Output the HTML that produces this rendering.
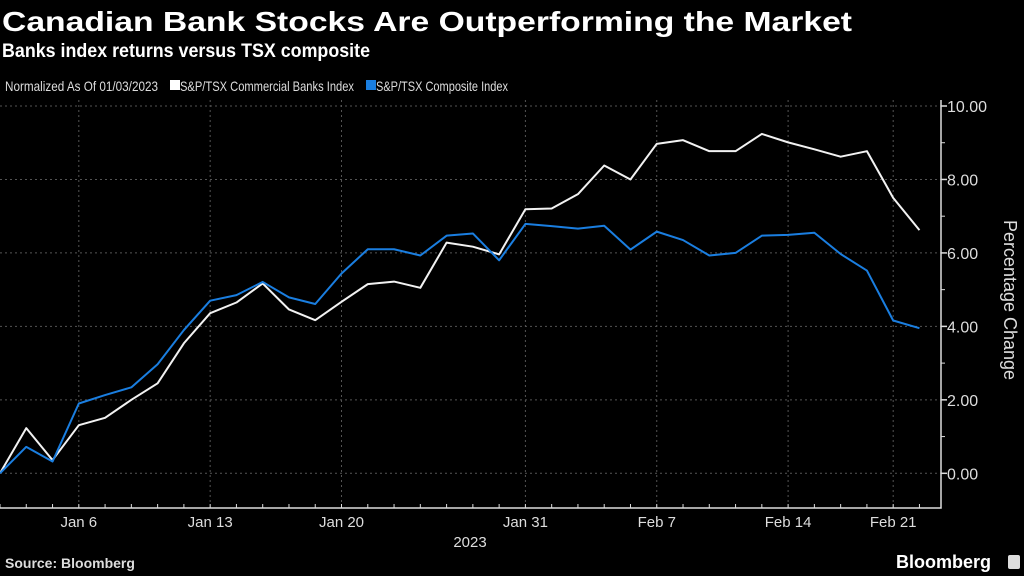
<!DOCTYPE html>
<html><head><meta charset="utf-8"><style>
html,body{margin:0;padding:0;background:#000;}
svg{display:block;font-family:"Liberation Sans",sans-serif;}
</style></head><body>
<svg id="chart" width="1024" height="576" viewBox="0 0 1024 576" xmlns="http://www.w3.org/2000/svg">
<rect x="0" y="0" width="1024" height="576" fill="#000"/>
<text x="2" y="31" fill="#fff" font-size="28" font-weight="bold" textLength="850" lengthAdjust="spacingAndGlyphs">Canadian Bank Stocks Are Outperforming the Market</text>
<text x="2" y="57" fill="#fff" font-size="19" font-weight="bold" textLength="368" lengthAdjust="spacingAndGlyphs">Banks index returns versus TSX composite</text>
<g>
<text x="5" y="91" fill="#ddd" font-size="14" textLength="153" lengthAdjust="spacingAndGlyphs">Normalized As Of 01/03/2023</text>
<rect x="170" y="80" width="10" height="10" fill="#fff"/>
<text x="180" y="91" fill="#ddd" font-size="14" textLength="174" lengthAdjust="spacingAndGlyphs">S&amp;P/TSX Commercial Banks Index</text>
<rect x="366" y="80" width="10" height="10" fill="#1a7ee0"/>
<text x="376" y="91" fill="#ddd" font-size="14" textLength="132" lengthAdjust="spacingAndGlyphs">S&amp;P/TSX Composite Index</text>
</g>
<g id="grid"></g>
<g id="axes"></g>
<g id="series"></g>
<text transform="translate(1004,300) rotate(90)" text-anchor="middle" fill="#ddd" font-size="18">Percentage Change</text>
<text x="470" y="547" text-anchor="middle" fill="#ddd" font-size="15">2023</text>
<text x="5" y="568" fill="#ddd" font-size="14" font-weight="bold">Source: Bloomberg</text>
<text x="896" y="568" fill="#fff" font-size="18" font-weight="bold">Bloomberg</text>
<rect x="1008" y="555" width="12" height="14" rx="2" fill="#ddd"/>
</svg>
<script>
const dates = ["Jan 3","Jan 4","Jan 5","Jan 6","Jan 9","Jan 10","Jan 11","Jan 12","Jan 13","Jan 16","Jan 17","Jan 18","Jan 19","Jan 20","Jan 23","Jan 24","Jan 25","Jan 26","Jan 27","Jan 30","Jan 31","Feb 1","Feb 2","Feb 3","Feb 6","Feb 7","Feb 8","Feb 9","Feb 10","Feb 13","Feb 14","Feb 15","Feb 16","Feb 17","Feb 21","Feb 22"];
const banks = [0,1.23,0.36,1.31,1.51,2.0,2.45,3.54,4.36,4.65,5.17,4.46,4.17,4.67,5.15,5.22,5.05,6.28,6.17,5.96,7.19,7.21,7.6,8.38,8.0,8.97,9.07,8.77,8.77,9.24,9.01,8.82,8.62,8.77,7.5,6.62];
const composite = [0,0.72,0.32,1.9,2.13,2.34,2.97,3.9,4.7,4.85,5.21,4.79,4.61,5.44,6.1,6.1,5.93,6.47,6.53,5.8,6.79,6.73,6.66,6.74,6.09,6.58,6.35,5.93,6.0,6.47,6.49,6.55,5.97,5.52,4.16,3.95];
const yTicks = [0,2,4,6,8,10];
const yTickLabels = ["0.00","2.00","4.00","6.00","8.00","10.00"];
const xLabels = ["Jan 6","Jan 13","Jan 20","Jan 31","Feb 7","Feb 14","Feb 21"];

const NS="http://www.w3.org/2000/svg";
const x0=0, step=26.27, axisX=941, axisBottom=508;
function xScale(i){return x0+i*step;}
function yScale(v){return 473.3-v*36.73;}
function mk(tag,attrs,parent){const e=document.createElementNS(NS,tag);for(const k in attrs)e.setAttribute(k,attrs[k]);parent.appendChild(e);return e;}
const grid=document.getElementById('grid'), axes=document.getElementById('axes'), series=document.getElementById('series');

yTicks.forEach((v,i)=>{
  const g=mk('line',{x1:0,x2:axisX,y1:yScale(v),y2:yScale(v),stroke:'#555','stroke-width':1,'stroke-dasharray':'2,3'},grid);
  
  
  const t=mk('line',{x1:axisX,x2:axisX+6,y1:yScale(v),y2:yScale(v),stroke:'#ddd','stroke-width':1.5},axes);
  
  
  const l=mk('text',{x:axisX+6,y:yScale(v)+6,fill:'#ddd','font-size':16},axes);
  l.textContent=yTickLabels[i];
  
  
  if(v<10){
    const m=mk('line',{x1:axisX,x2:axisX+4,y1:yScale(v+1),y2:yScale(v+1),stroke:'#ddd','stroke-width':1},axes);
    
    
  }
});
xLabels.forEach(lbl=>{
  const i=dates.indexOf(lbl); const x=xScale(i);
  const g=mk('line',{x1:x,x2:x,y1:100,y2:axisBottom,stroke:'#555','stroke-width':1,'stroke-dasharray':'2,3'},grid);
  
  
  const t=mk('text',{x:x,y:527,fill:'#ddd','font-size':15,'text-anchor':'middle'},axes);
  t.textContent=lbl;
  
  
});
dates.forEach((d,i)=>{
  const t=mk('line',{x1:xScale(i),x2:xScale(i),y1:axisBottom,y2:axisBottom-4,stroke:'#ddd','stroke-width':1},axes);
  
  
});
const ax=mk('polyline',{points:`${axisX},100 ${axisX},${axisBottom} 0,${axisBottom}`,fill:'none',stroke:'#ddd','stroke-width':1.5},axes);



function line(vals,color,name){
  const p=mk('polyline',{points:vals.map((v,i)=>xScale(i)+','+yScale(v)).join(' '),fill:'none',stroke:color,'stroke-width':2,'stroke-linejoin':'round'},series);
  
  
}
line(banks,'#f2f2f2','banks-index-line');
line(composite,'#1a7ee0','composite-index-line');
</script>
</body></html>
